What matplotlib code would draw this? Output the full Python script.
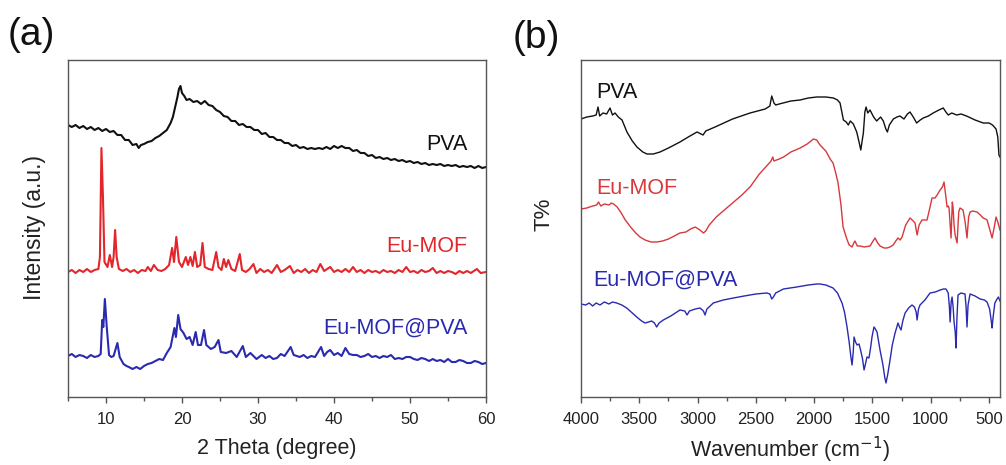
import matplotlib
matplotlib.use("Agg")
import matplotlib.pyplot as plt
from matplotlib.ticker import MultipleLocator

plt.rcParams['font.family'] = ['Liberation Sans', 'DejaVu Sans']

# ---------------- XRD data (2 theta, intensity in a.u., stacked) ----------------
xrd_pva_x = [5.0, 5.5, 6.0, 6.5, 7.0, 7.5, 8.0, 8.5, 9.0, 9.5, 10.0, 10.5, 11.0, 11.5, 12.0, 12.5,
             13.0, 13.5, 14.0, 14.3, 14.6, 15.0, 15.5, 16.0, 16.5, 17.0, 17.5, 18.0, 18.5, 18.8,
             19.1, 19.4, 19.6, 19.8, 20.0, 20.3, 20.6, 21.0, 21.5, 22.0, 22.5, 23.0, 23.5, 24.0,
             24.5, 25.0, 25.5, 26.0, 26.5, 27.0, 27.5, 28.0, 28.5, 29.0, 29.5, 30.0, 30.5, 31.0,
             31.5, 32.0, 32.5, 33.0, 33.5, 34.0, 34.5, 35.0, 35.5, 36.0, 36.5, 37.0, 37.5, 38.0,
             38.5, 39.0, 39.5, 40.0, 40.5, 41.0, 41.5, 42.0, 42.5, 43.0, 43.5, 44.0, 44.5, 45.0,
             45.5, 46.0, 46.5, 47.0, 47.5, 48.0, 48.5, 49.0, 49.5, 50.0, 50.5, 51.0, 51.5, 52.0,
             52.5, 53.0, 53.5, 54.0, 54.5, 55.0, 55.5, 56.0, 56.5, 57.0, 57.5, 58.0, 58.5, 59.0,
             59.5, 60.0]
xrd_pva_y = [272, 270, 272, 269, 271, 268, 270, 267, 269, 266, 268, 265, 266, 262, 262, 257,
             257, 252, 253, 249, 252, 253, 255, 256, 259, 261, 264, 267, 274, 280,
             290, 300, 308, 311, 304, 301, 297, 298, 295, 296, 293, 296, 292, 291,
             287, 285, 281, 280, 276, 276, 272, 273, 270, 270, 267, 267, 263, 264,
             260, 260, 257, 257, 254, 254, 251, 252, 249, 250, 248, 249, 248, 249,
             248, 250, 248, 251, 249, 251, 249, 249, 246, 247, 244, 244, 241, 242,
             239, 240, 238, 239, 237, 238, 236, 237, 235, 236, 234, 235, 233, 234,
             232, 233, 232, 233, 231, 232, 231, 232, 230, 231, 230, 231, 229, 231,
             229, 230]

xrd_mof_x = [5.0, 5.5, 6.0, 6.5, 7.0, 7.5, 8.0, 8.5, 9.0, 9.2, 9.4, 9.6, 9.8, 10.2, 10.5, 10.8,
             11.0, 11.2, 11.4, 11.7, 12.2, 12.7, 13.2, 13.7, 14.2, 14.7, 15.2, 15.5, 15.9, 16.3,
             16.8, 17.3, 17.8, 18.3, 18.7, 18.95, 19.25, 19.6, 20.0, 20.5, 20.8, 21.1, 21.4, 21.7,
             22.0, 22.4, 22.7, 23.0, 23.5, 24.0, 24.5, 24.8, 25.2, 25.5, 25.8, 26.1, 26.5, 27.0,
             27.6, 27.9, 28.4, 28.9, 29.4, 29.8, 30.3, 30.8, 31.3, 31.8, 32.5, 33.0, 33.5, 34.2,
             34.7, 35.2, 35.7, 36.2, 36.7, 37.2, 37.7, 38.2, 38.7, 39.1, 39.5, 40.0, 40.5, 41.0,
             41.5, 42.0, 42.5, 43.0, 43.5, 44.0, 44.5, 45.0, 45.5, 46.0, 46.5, 47.0, 47.5, 48.0,
             48.5, 49.0, 49.5, 50.0, 50.5, 51.0, 51.5, 52.0, 52.5, 53.0, 53.5, 54.0, 54.5, 55.0,
             55.5, 56.0, 56.5, 57.0, 57.5, 58.0, 58.8, 59.3, 60.0]
xrd_mof_y = [125, 127, 124, 127, 125, 128, 125, 127, 128, 140, 249, 200, 135, 130, 142, 130,
             140, 167, 140, 128, 126, 128, 125, 127, 124, 127, 126, 130, 126, 132,
             127, 126, 128, 132, 149, 135, 160, 135, 130, 140, 132, 140, 131, 145,
             130, 132, 154, 130, 128, 127, 145, 130, 127, 138, 130, 137, 128, 126,
             143, 127, 125, 128, 133, 124, 128, 125, 127, 124, 132, 125, 127, 131,
             124, 127, 125, 128, 124, 127, 125, 133, 126, 128, 130, 125, 127, 125,
             128, 125, 130, 125, 127, 124, 127, 125, 126, 124, 127, 125, 126, 124,
             127, 125, 130, 125, 126, 124, 127, 125, 126, 129, 124, 126, 124, 126,
             125, 123, 126, 124, 126, 124, 128, 124, 125]

xrd_comp_x = [5.0, 5.5, 6.0, 6.5, 7.0, 7.5, 8.0, 8.5, 9.0, 9.3, 9.5, 9.65, 9.85, 10.1, 10.4, 10.7,
              11.0, 11.5, 11.8, 12.3, 12.7, 13.0, 13.5, 14.0, 14.5, 15.0, 15.5, 16.0, 16.5, 17.0,
              17.5, 18.0, 18.5, 19.0, 19.2, 19.5, 19.8, 20.2, 20.6, 21.0, 21.4, 21.8, 22.1, 22.5,
              22.9, 23.2, 23.8, 24.3, 24.8, 25.1, 25.8, 26.5, 27.2, 28.0, 28.4, 29.0, 29.8, 30.5,
              31.0, 31.5, 32.0, 32.5, 33.0, 33.5, 34.3, 34.7, 35.5, 36.0, 36.5, 37.0, 37.5, 38.3,
              38.7, 39.1, 39.5, 40.0, 40.5, 41.0, 41.5, 42.0, 42.5, 43.0, 43.5, 44.0, 44.5, 45.0,
              45.5, 46.0, 46.5, 47.0, 47.5, 48.0, 48.5, 49.0, 49.5, 50.0, 50.5, 51.0, 51.5, 52.0,
              52.5, 53.0, 53.5, 54.0, 54.5, 55.0, 55.5, 56.0, 56.5, 57.0, 57.5, 58.0, 58.5, 59.0,
              59.5, 60.0]
xrd_comp_y = [41, 43, 40, 42, 41, 39, 42, 40, 41, 43, 77, 70, 98, 70, 42, 40,
              41, 54, 40, 33, 31, 30, 28, 30, 28, 31, 33, 34, 36, 38,
              37, 44, 50, 69, 60, 82, 68, 64, 58, 60, 52, 65, 52, 52,
              67, 52, 48, 50, 57, 45, 44, 46, 40, 51, 40, 44, 38, 42,
              39, 41, 38, 39, 43, 41, 50, 42, 40, 42, 39, 41, 40, 50,
              41, 45, 47, 42, 44, 41, 49, 43, 42, 42, 40, 41, 43, 40,
              41, 39, 41, 40, 42, 38, 39, 38, 40, 40, 38, 37, 39, 38,
              36, 38, 36, 37, 35, 38, 35, 35, 37, 36, 34, 34, 36, 35,
              33, 34]

# ---------------- FTIR data (wavenumber, transmittance in a.u., stacked) ----------------
ir_pva_x = [4000, 3950, 3900, 3870, 3854, 3840, 3811, 3780, 3751, 3730, 3708, 3680, 3648, 3606,
            3560, 3520, 3470, 3434, 3380, 3322, 3250, 3151, 3080, 3005, 2953, 2930, 2850, 2700,
            2550, 2420, 2380, 2364, 2345, 2330, 2300, 2200, 2121, 2050, 1978, 1900, 1835, 1800,
            1778, 1749, 1725, 1707, 1690, 1664, 1635, 1615, 1600, 1590, 1578, 1565, 1555, 1540,
            1521, 1490, 1464, 1430, 1407, 1385, 1372, 1355, 1321, 1290, 1264, 1230, 1200, 1178,
            1150, 1121, 1090, 1064, 1020, 979, 930, 893, 870, 850, 820, 778, 740, 693, 620, 550,
            500, 470, 440, 425, 415, 406]
ir_pva_y = [278, 280, 281, 282, 290, 281, 284, 283, 289, 282, 284, 280, 277, 265,
            256, 250, 245, 243, 243, 245, 249, 255, 260, 265, 262, 266, 270, 278,
            284, 288, 291, 301, 294, 292, 293, 296, 297, 299, 300, 300, 299, 297,
            294, 277, 275, 272, 276, 273, 265, 255, 247, 255, 264, 285, 290, 284,
            287, 280, 276, 280, 276, 268, 265, 272, 278, 280, 281, 278, 283, 285,
            280, 274, 277, 279, 281, 284, 287, 289, 285, 282, 284, 282, 283, 281, 277, 274,
            274, 272, 268, 260, 242, 240]

ir_mof_x = [4000, 3950, 3900, 3865, 3850, 3830, 3800, 3760, 3740, 3720, 3690, 3660, 3620, 3575,
            3530, 3494, 3450, 3400, 3350, 3300, 3250, 3200, 3151, 3100, 3060, 3020, 2980, 2950,
            2930, 2900, 2840, 2770, 2700, 2620, 2550, 2470, 2400, 2370, 2355, 2345, 2300, 2262,
            2200, 2120, 2060, 2006, 1978, 1950, 1900, 1863, 1838, 1815, 1795, 1770, 1752, 1720,
            1700, 1675, 1660, 1650, 1630, 1607, 1570, 1521, 1500, 1478, 1455, 1435, 1400, 1375,
            1350, 1322, 1300, 1281, 1262, 1246, 1215, 1178, 1150, 1135, 1117, 1100, 1075, 1032,
            1010, 989, 963, 940, 920, 900, 886, 870, 860, 850, 843, 826, 815, 809, 800, 791,
            774, 760, 749, 735, 723, 705, 689, 675, 663, 640, 603, 575, 551, 530, 517, 495,
            474, 455, 440, 425, 406]
ir_mof_y = [188, 189, 191, 192, 195, 191, 193, 192, 194, 193, 190, 185, 177, 170,
            164, 160, 157, 155, 155, 156, 158, 161, 164, 165, 168, 170, 167, 164,
            166, 172, 180, 187, 194, 202, 210, 223, 232, 236, 240, 236, 238, 240,
            245, 249, 253, 258, 257, 252, 246, 238, 234, 224, 214, 192, 170, 158,
            152, 150, 154, 156, 151, 151, 150, 151, 155, 159, 154, 151, 149, 149,
            150, 152, 156, 159, 157, 160, 172, 179, 176, 174, 162, 172, 177, 177,
            188, 199, 199, 203, 207, 210, 215, 200, 190, 191, 189, 159, 195, 190, 172, 162,
            154, 185, 189, 188, 187, 175, 159, 180, 185, 186, 185, 182, 179, 178, 177, 168,
            159, 170, 180, 175, 167]

ir_comp_x = [4000, 3960, 3930, 3900, 3870, 3837, 3800, 3760, 3730, 3694, 3650, 3608, 3560, 3522,
             3480, 3451, 3420, 3394, 3370, 3351, 3330, 3294, 3230, 3151, 3110, 3090, 3070, 3020,
             2979, 2950, 2936, 2920, 2865, 2780, 2693, 2600, 2500, 2407, 2380, 2364, 2350, 2330,
             2264, 2150, 2050, 1978, 1950, 1900, 1838, 1800, 1761, 1740, 1718, 1700, 1685, 1675,
             1665, 1658, 1645, 1632, 1615, 1598, 1585, 1572, 1560, 1547, 1530, 1515, 1504, 1487,
             1475, 1461, 1435, 1410, 1395, 1384, 1370, 1349, 1330, 1306, 1281, 1268, 1255, 1240,
             1220, 1190, 1161, 1140, 1125, 1117, 1105, 1092, 1050, 1006, 960, 920, 890, 869,
             850, 840, 834, 825, 817, 808, 800, 790, 783, 775, 766, 740, 706, 697, 689, 680,
             663, 620, 577, 540, 517, 495, 480, 474, 465, 450, 431, 420, 406]
ir_comp_y = [93, 92, 94, 91, 94, 92, 95, 93, 95, 94, 92, 89, 84, 80,
             76, 74, 75, 76, 74, 70, 74, 77, 81, 87, 86, 82, 86, 88,
             89, 86, 82, 88, 94, 97, 99, 101, 103, 104, 103, 98, 100, 104,
             108, 110, 112, 113, 113, 112, 109, 104, 94, 85, 70, 55, 40, 32,
             45, 60, 55, 52, 53, 45, 38, 27, 33, 40, 39, 50, 60, 70,
             68, 65, 47, 32, 20, 14, 22, 37, 52, 64, 74, 70, 67, 76,
             84, 89, 92, 90, 85, 77, 88, 92, 97, 104, 105, 107, 108, 108,
             104, 90, 75, 95, 100, 90, 75, 65, 49, 80, 102, 104, 103, 90, 70, 92,
             103, 101, 98, 97, 95, 88, 75, 69, 80, 94, 98, 100, 96]

xrd_labels = ["PVA", "Eu-MOF", "Eu-MOF@PVA"]
ir_labels = ["PVA", "Eu-MOF", "Eu-MOF@PVA"]

BLACK = "#111111"
RED = "#e3262b"
RED_IR = "#d8383c"
BLUE = "#2a2ab0"
SPINE = "#555555"
TEXT = "#222222"

W, H = 1006, 465
fig = plt.figure(figsize=(W / 100, H / 100), dpi=100)

def axes_px(left, top, right, bottom):
    return fig.add_axes([left / W, 1 - bottom / H, (right - left) / W, (bottom - top) / H])

ax1 = axes_px(68, 60, 486, 397)
ax2 = axes_px(581, 60, 1000, 397)

def style(ax):
    for s in ax.spines.values():
        s.set_color(SPINE)
        s.set_linewidth(1.0)
    ax.tick_params(axis='x', which='major', direction='out', length=4, width=1,
                   color=SPINE, labelsize=12, pad=7, labelcolor=TEXT)
    ax.tick_params(axis='x', which='minor', direction='out', length=3, width=1, color=SPINE)
    ax.set_yticks([])

# ---- (a) XRD ----
ax1.plot(xrd_pva_x, xrd_pva_y, color=BLACK, lw=1.5)
ax1.plot(xrd_mof_x, xrd_mof_y, color=RED, lw=1.5)
ax1.plot(xrd_comp_x, xrd_comp_y, color=BLUE, lw=1.5)
ax1.set_xlim(5, 60)
ax1.set_ylim(0, 337)
ax1.xaxis.set_major_locator(MultipleLocator(10))
ax1.xaxis.set_minor_locator(MultipleLocator(5))
style(ax1)
ax1.set_xlabel("2 Theta (degree)", fontsize=15.5, color=TEXT, va='center')
ax1.xaxis.set_label_coords(0.5, (397 - 448) / 337)
ax1.set_ylabel("Intensity (a.u.)", fontsize=16.5, color=TEXT, va='center')
ax1.yaxis.set_label_coords((34 - 68) / 418, (397 - 228) / 337)
ax1.text(57.6, 253, xrd_labels[0], color=BLACK, fontsize=15.5, ha='right', va='center')
ax1.text(57.6, 150, xrd_labels[1], color=RED, fontsize=15.5, ha='right', va='center')
ax1.text(57.6, 69, xrd_labels[2], color=BLUE, fontsize=15.5, ha='right', va='center')

# ---- (b) FTIR ----
ax2.plot(ir_pva_x, ir_pva_y, color=BLACK, lw=1.0)
ax2.plot(ir_mof_x, ir_mof_y, color=RED_IR, lw=1.0)
ax2.plot(ir_comp_x, ir_comp_y, color=BLUE, lw=1.0)
ax2.set_xlim(4000, 406)
ax2.set_ylim(0, 337)
ax2.xaxis.set_major_locator(MultipleLocator(500))
ax2.xaxis.set_minor_locator(MultipleLocator(250))
style(ax2)
ax2.set_xlabel("Wavenumber (cm$^{-1}$)", fontsize=15.5, color=TEXT, va='center')
ax2.xaxis.set_label_coords(0.5, (397 - 450) / 337)
ax2.set_ylabel("T%", fontsize=16, color=TEXT, va='center')
ax2.yaxis.set_label_coords((544 - 581) / 419, (397 - 214) / 337)
ax2.text(3865, 305, ir_labels[0], color=BLACK, fontsize=15.5, ha='left', va='center')
ax2.text(3865, 209, ir_labels[1], color=RED_IR, fontsize=15.5, ha='left', va='center')
ax2.text(3895, 117, ir_labels[2], color=BLUE, fontsize=15.5, ha='left', va='center')

# panel tags
fig.text(8 / W, 1 - 35 / H, "(a)", fontsize=28, ha='left', va='center', color="#111111")
fig.text(513 / W, 1 - 38 / H, "(b)", fontsize=28, ha='left', va='center', color="#111111")

fig.savefig("out.png", dpi=100)
